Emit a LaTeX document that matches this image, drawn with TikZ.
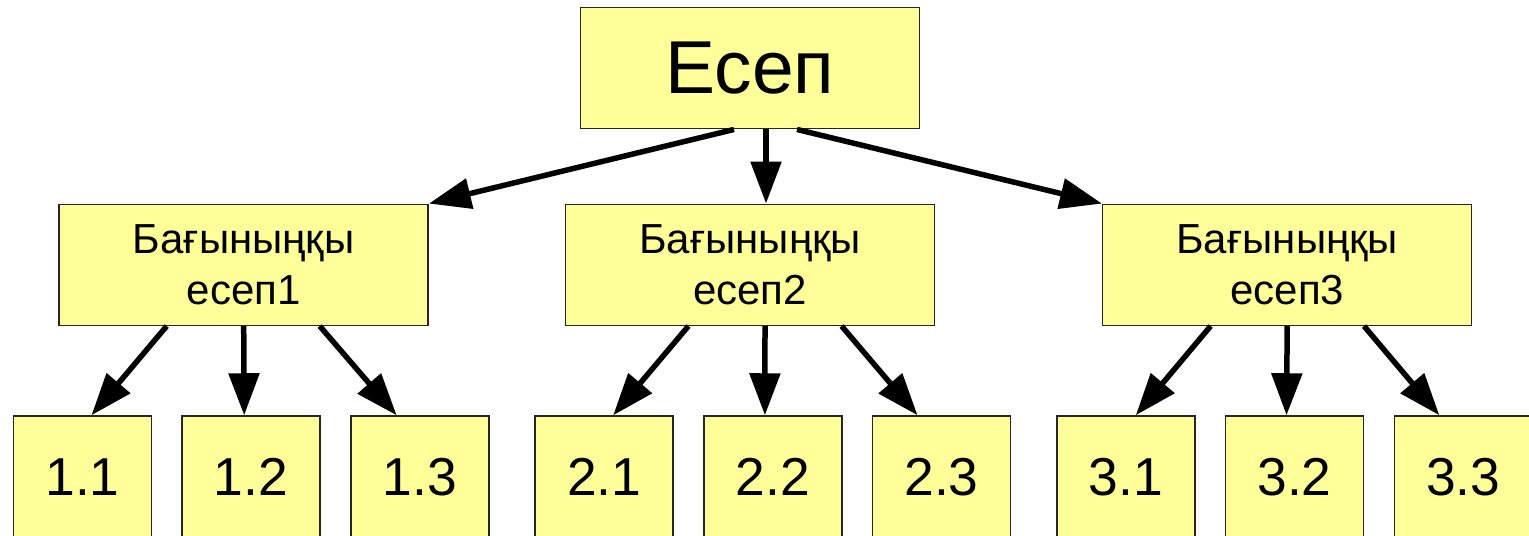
\documentclass[tikz,border=0pt]{standalone}
\usepackage{fontspec}
\setmainfont{Liberation Sans}
\usetikzlibrary{positioning}
\usetikzlibrary{arrows.meta}
\definecolor{boxyellow}{RGB}{255,255,153}

\begin{document}
\begin{tikzpicture}[x=0.5pt,y=-0.5pt,
  box/.style={draw=black!85,fill=boxyellow,line width=0.75pt,inner sep=0pt,align=center},
  topbox/.style={box,minimum width=169.3pt,minimum height=60.7pt,font=\fontsize{37.5}{45}\selectfont},
  subbox/.style={box,minimum width=184.5pt,minimum height=60.5pt,font=\fontsize{21}{25.3}\selectfont},
  leafbox/.style={box,minimum width=69pt,minimum height=61pt,font=\fontsize{26.7}{32}\selectfont},
  arr/.style={-{Triangle[length=21pt,width=15pt]},line width=2.75pt}]
\useasboundingbox (0,0) rectangle (1529,535);

\node[topbox] (Esep) at (750,68) {Есеп};

\node[subbox] (S1) at (243.7,264.8) {Бағыныңқы\\есеп1};
\node[subbox] (S2) at (750,264.8) {Бағыныңқы\\есеп2};
\node[subbox] (S3) at (1287.2,264.8) {Бағыныңқы\\есеп3};

\node[leafbox] (s11) at (82.5,477) {1.1};
\node[leafbox] (s12) at (251,477) {1.2};
\node[leafbox] (s13) at (420,477) {1.3};
\node[leafbox] (s21) at (604.2,477) {2.1};
\node[leafbox] (s22) at (772.9,477) {2.2};
\node[leafbox] (s23) at (941.5,477) {2.3};
\node[leafbox] (s31) at (1125.8,477) {3.1};
\node[leafbox] (s32) at (1294.5,477) {3.2};
\node[leafbox] (s33) at (1463.3,477) {3.3};

\draw[arr] ([xshift=-8pt]Esep.south) -- (S1.north east);
\draw[arr] ([xshift=8pt]Esep.south) -- ([xshift=8pt]S2.north);
\draw[arr] ([xshift=23.5pt]Esep.south) -- (S3.north west);

\draw[arr] ([xshift=-38.5pt]S1.south) -- ([xshift=4.5pt]s11.north);
\draw[arr] (S1.south) -- ([xshift=-3.4pt]s12.north);
\draw[arr] ([xshift=38pt]S1.south) -- ([xshift=-11.7pt]s13.north);

\draw[arr] ([xshift=-30.8pt]S2.south) -- ([xshift=4.5pt]s21.north);
\draw[arr] ([xshift=7.5pt]S2.south) -- ([xshift=-4pt]s22.north);
\draw[arr] ([xshift=45.8pt]S2.south) -- ([xshift=-12pt]s23.north);

\draw[arr] ([xshift=-38.3pt]S3.south) -- ([xshift=5pt]s31.north);
\draw[arr] (S3.south) -- ([xshift=-4pt]s32.north);
\draw[arr] ([xshift=38.4pt]S3.south) -- ([xshift=-12pt]s33.north);

\end{tikzpicture}
\end{document}
